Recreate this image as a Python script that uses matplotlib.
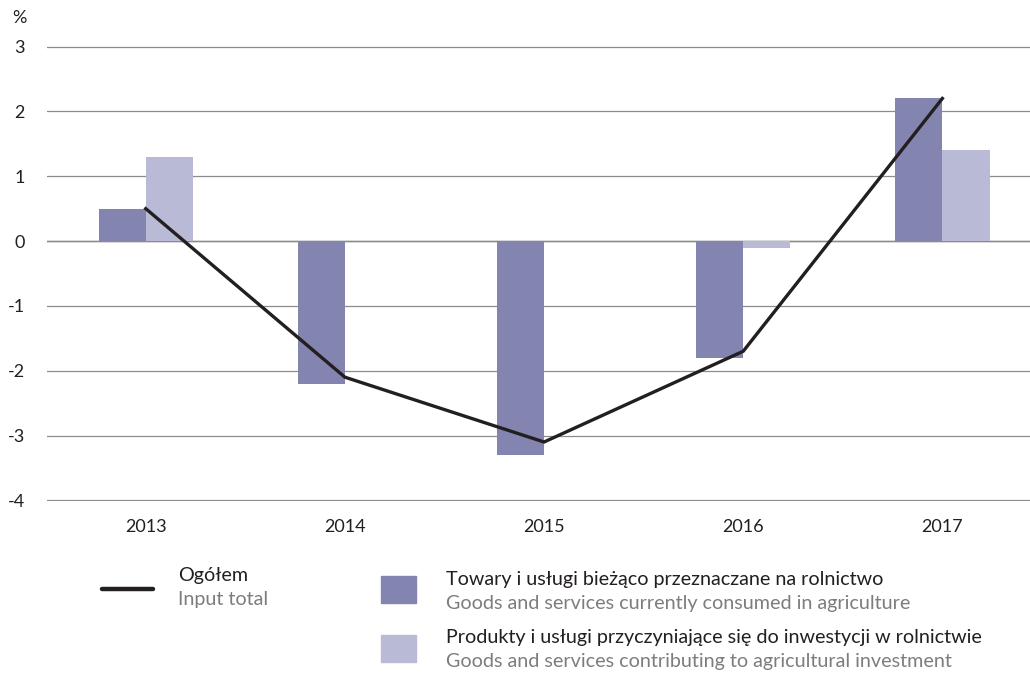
import matplotlib
matplotlib.use("Agg")
import matplotlib.pyplot as plt
from matplotlib.lines import Line2D
from matplotlib.patches import Rectangle
import numpy as np

plt.rcParams['font.family'] = ['Lato', 'DejaVu Sans']
plt.rcParams['axes.unicode_minus'] = False

# data
years = ['2013', '2014', '2015', '2016', '2017']
current_goods = [0.5, -2.2, -3.3, -1.8, 2.2]      # towary i uslugi biezaco przeznaczane
investment_goods = [1.3, 0.0, 0.0, -0.1, 1.4]     # produkty i uslugi inwestycyjne
input_total = [0.5, -2.1, -3.1, -1.7, 2.2]        # ogolem

dark = '#8385b0'
light = '#b9bbd6'
black = '#231f20'
grey_txt = '#7d7d7d'

fig = plt.figure(figsize=(10.3, 6.75), dpi=100)
ax = fig.add_axes([0.0456, 0.2578, 0.9544, 0.6741])

x = np.arange(len(years))
w = 0.237
ax.bar(x - w / 2, current_goods, w, color=dark, zorder=2)
ax.bar(x + w / 2, investment_goods, w, color=light, zorder=2)
ax.plot(x, input_total, color=black, lw=2.4, zorder=3, solid_joinstyle='miter')

ax.set_ylim(-4.01, 3.01)
ax.set_xlim(-0.496, 4.44)
ax.set_yticks(range(-4, 4))
ax.set_xticks(x)
ax.set_xticklabels(years)
ax.grid(axis='y', color='#8c8c8c', lw=0.9, zorder=1)
ax.axhline(0, color='#7a7a7a', lw=1.0, zorder=1)
for s in ax.spines.values():
    s.set_visible(False)
ax.tick_params(length=0, labelsize=13, colors=black)
ax.tick_params(axis='y', pad=16)
ax.tick_params(axis='x', pad=13)
for lab in ax.get_yticklabels():
    lab.set_horizontalalignment('right')

fig.text(12 / 1030, 1 - 18 / 675, '%', fontsize=13, color=black, va='center')

# legend drawn by hand
def fx(px):
    return px / 1030

def fy(py):
    return 1 - py / 675

leg_fs = 14.2
fig.add_artist(Line2D([fx(102), fx(153)], [fy(589), fy(589)], color=black, lw=3.2,
                      solid_capstyle='round'))
fig.text(fx(178), fy(576), 'Ogółem', fontsize=leg_fs, color=black, va='center')
fig.text(fx(178), fy(600), 'Input total', fontsize=leg_fs, color=grey_txt, va='center')

fig.add_artist(Rectangle((fx(381), fy(603)), fx(35), 27 / 675, color=dark))
fig.text(fx(446), fy(579), 'Towary i usługi bieżąco przeznaczane na rolnictwo',
         fontsize=leg_fs, color=black, va='center')
fig.text(fx(446), fy(604), 'Goods and services currently consumed in agriculture',
         fontsize=leg_fs, color=grey_txt, va='center')

fig.add_artist(Rectangle((fx(381), fy(662)), fx(35), 27 / 675, color=light))
fig.text(fx(446), fy(638), 'Produkty i usługi przyczyniające się do inwestycji w rolnictwie',
         fontsize=leg_fs, color=black, va='center')
fig.text(fx(446), fy(662), 'Goods and services contributing to agricultural investment',
         fontsize=leg_fs, color=grey_txt, va='center')

fig.savefig('out.png', dpi=100)
